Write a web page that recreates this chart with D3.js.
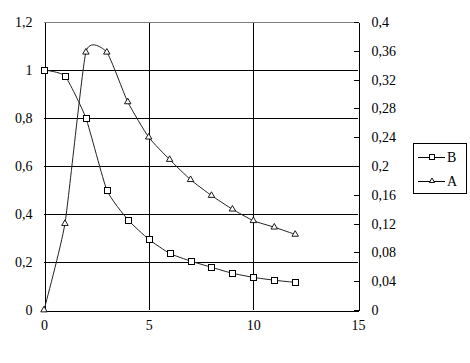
<!DOCTYPE html>
<html>
<head>
<meta charset="utf-8">
<script src="https://cdn.jsdelivr.net/npm/d3@7"></script>
<style>
  body { margin: 0; background: #fff; }
</style>
</head>
<body>
<div id="chart"></div>
<script>
// data
var xs = [0, 1, 2, 3, 4, 5, 6, 7, 8, 9, 10, 11, 12];
var seriesB = [1.0, 0.975, 0.80, 0.50, 0.377, 0.295, 0.236, 0.204, 0.178, 0.153, 0.136, 0.124, 0.115];
var seriesA = [0, 0.12, 0.358, 0.358, 0.289, 0.240, 0.209, 0.181, 0.159, 0.140, 0.124, 0.115, 0.105];
var xTicks = [0, 5, 10, 15];
var leftTicks = [0, 0.2, 0.4, 0.6, 0.8, 1, 1.2];
var rightTicks = [0, 0.04, 0.08, 0.12, 0.16, 0.2, 0.24, 0.28, 0.32, 0.36, 0.4];

var W = 470, H = 363;
var pLeft = 44, pRight = 358, pTop = 22, pBottom = 310;

var svg = d3.select("#chart").append("svg").attr("width", W).attr("height", H);

var x = d3.scaleLinear().domain([0, 15]).range([pLeft, pRight]);
var yL = d3.scaleLinear().domain([0, 1.2]).range([pBottom, pTop]);
var yR = d3.scaleLinear().domain([0, 0.4]).range([pBottom, pTop]);

var loc = d3.formatLocale({decimal: ",", thousands: " ", grouping: [3], currency: ["", ""]});
var fmt = loc.format("~g");

// gridlines
var grid = svg.append("g").attr("shape-rendering", "crispEdges");
grid.selectAll(".hg").data(leftTicks.slice(1, -1)).enter().append("line")
    .attr("x1", pLeft).attr("x2", pRight)
    .attr("y1", function(d){ return Math.round(yL(d)) + 0.5; })
    .attr("y2", function(d){ return Math.round(yL(d)) + 0.5; })
    .attr("stroke", "#000");
grid.selectAll(".vg").data(xTicks.slice(1, -1)).enter().append("line")
    .attr("y1", pTop).attr("y2", pBottom)
    .attr("x1", function(d){ return Math.round(x(d)) + 0.5; })
    .attr("x2", function(d){ return Math.round(x(d)) + 0.5; })
    .attr("stroke", "#000");
// top border gray
grid.append("line").attr("x1", pLeft).attr("x2", pRight).attr("y1", pTop + 0.5).attr("y2", pTop + 0.5).attr("stroke", "#808080");

// axes
var axL = svg.append("g").attr("transform", "translate(" + (pLeft + 0.5) + ",0)")
    .call(d3.axisLeft(yL).tickValues(leftTicks).tickFormat(fmt).tickSize(0).tickPadding(12));
var axR = svg.append("g").attr("transform", "translate(" + (pRight + 0.5) + ",0)")
    .call(d3.axisRight(yR).tickValues(rightTicks).tickFormat(fmt).tickSizeInner(-5).tickSizeOuter(0).tickPadding(13));
var axB = svg.append("g").attr("transform", "translate(0," + (pBottom + 0.5) + ")")
    .call(d3.axisBottom(x).tickValues(xTicks).tickFormat(fmt).tickSize(0).tickPadding(10));

[axL, axR, axB].forEach(function(a){
  a.attr("shape-rendering", "crispEdges");
  a.selectAll("path").attr("stroke", "#000");
  a.selectAll("line").attr("stroke", "#000");
});
axR.selectAll(".tick text").attr("x", 13);

// curves
var lineB = d3.line().x(function(d, i){ return x(xs[i]); }).y(function(d){ return yL(d); }).curve(d3.curveCardinal.tension(0.5));
var lineA = d3.line().x(function(d, i){ return x(xs[i]); }).y(function(d){ return yR(d); }).curve(d3.curveCardinal.tension(0.5));

svg.append("path").datum(seriesB).attr("d", lineB).attr("fill", "none").attr("stroke", "#222").attr("stroke-width", 1);
svg.append("path").datum(seriesA).attr("d", lineA).attr("fill", "none").attr("stroke", "#222").attr("stroke-width", 1);

// markers
var tri = d3.symbol().type(d3.symbolTriangle).size(18);
svg.selectAll(".mA").data(seriesA).enter().append("path")
    .attr("d", tri)
    .attr("transform", function(d, i){ return "translate(" + x(xs[i]) + "," + yR(d) + ")"; })
    .attr("fill", "#fff").attr("stroke", "#000").attr("stroke-width", 0.9);
svg.selectAll(".mB").data(seriesB).enter().append("rect")
    .attr("x", function(d, i){ return Math.round(x(xs[i])) - 3; })
    .attr("y", function(d){ return Math.round(yL(d)) - 3; })
    .attr("width", 6).attr("height", 6)
    .attr("fill", "#fff").attr("stroke", "#000").attr("stroke-width", 1)
    .attr("shape-rendering", "crispEdges");

// legend
var lg = svg.append("g");
lg.append("rect").attr("x", 413.5).attr("y", 143.5).attr("width", 53).attr("height", 50)
    .attr("fill", "#fff").attr("stroke", "#000").attr("shape-rendering", "crispEdges");
var legendItems = [{name: "B", type: "sq"}, {name: "A", type: "tri"}];
legendItems.forEach(function(it, i){
  var cy = 157 + i * 24;
  lg.append("line").attr("x1", 418).attr("x2", 445).attr("y1", cy + 0.5).attr("y2", cy + 0.5).attr("stroke", "#000");
  if (it.type == "sq") {
    lg.append("rect").attr("x", 429.5).attr("y", cy - 2.5).attr("width", 5).attr("height", 5).attr("fill", "#fff").attr("stroke", "#000");
  } else {
    lg.append("path").attr("d", d3.symbol().type(d3.symbolTriangle).size(12)).attr("transform", "translate(432," + cy + ")")
      .attr("fill", "#fff").attr("stroke", "#000").attr("stroke-width", 0.9);
  }
  lg.append("text").attr("x", 447).attr("y", cy + 5).text(it.name);
});

// serif text everywhere
svg.selectAll("text").style("font-family", "'Liberation Serif'").style("font-size", "14px").style("fill", "#000");
</script>
</body>
</html>
